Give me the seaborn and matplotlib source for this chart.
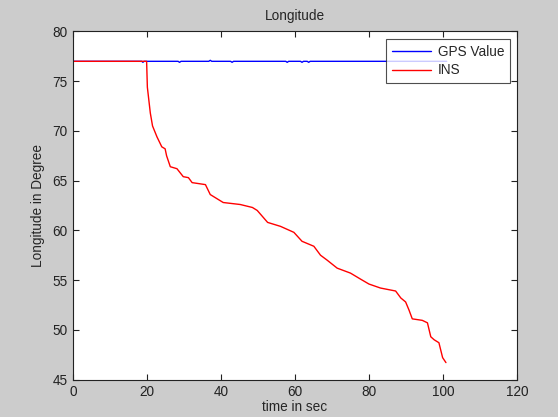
import matplotlib
matplotlib.use("Agg")
import matplotlib.pyplot as plt
import seaborn as sns
import pandas as pd

# GPS reference longitude (nearly constant, small wiggles)
gps_t = [0, 18.6, 18.9, 19.2, 28.4, 28.8, 29.2, 36.7, 37.1, 37.5, 42.6, 43.0, 43.4,
         57.5, 57.9, 58.3, 61.5, 61.9, 62.3, 63.3, 63.7, 64.1, 101]
gps_v = [77.0, 77.0, 76.9, 77.0, 77.0, 76.9, 77.0, 77.0, 77.1, 77.0, 77.0, 76.9, 77.0,
         77.0, 76.9, 77.0, 77.0, 76.9, 77.0, 77.0, 76.9, 77.0, 77.0]

# INS estimated longitude (drifting)
ins_t = [0, 19.9, 20.1, 20.9, 21.5, 22.7, 24.0, 24.9, 25.3, 26.3, 28.1, 29.8, 31.2,
         32.2, 35.8, 37.1, 40.6, 45.2, 48.5, 49.8, 52.6, 56.1, 59.7, 61.9, 65.1,
         66.9, 68.7, 71.4, 75.0, 77.7, 80.0, 83.1, 87.2, 88.6, 89.9, 90.8, 91.7,
         94.4, 95.8, 96.7, 97.6, 98.9, 99.9, 100.8]
ins_v = [77.0, 77.0, 74.4, 71.8, 70.5, 69.4, 68.4, 68.2, 67.5, 66.4, 66.2, 65.4, 65.3,
         64.8, 64.6, 63.6, 62.8, 62.6, 62.3, 62.0, 60.8, 60.4, 59.8, 58.9, 58.4,
         57.5, 57.0, 56.2, 55.7, 55.1, 54.6, 54.2, 53.9, 53.2, 52.8, 52.0, 51.1,
         50.95, 50.7, 49.3, 49.0, 48.7, 47.2, 46.7]

x_ticks = [0, 20, 40, 60, 80, 100, 120]
y_ticks = [45, 50, 55, 60, 65, 70, 75, 80]

sns.set_style("ticks")
plt.rcParams['font.family'] = ['Liberation Sans', 'DejaVu Sans']
plt.rcParams['xtick.direction'] = 'in'
plt.rcParams['ytick.direction'] = 'in'

fig = plt.figure(figsize=(5.58, 4.17), dpi=100, facecolor='#cccccc')
ax = fig.add_axes([0.1308, 0.0899, 0.7957, 0.8346])
ax.set_facecolor('white')

gps_df = pd.DataFrame({'t': gps_t, 'v': gps_v})
ins_df = pd.DataFrame({'t': ins_t, 'v': ins_v})

sns.lineplot(data=gps_df, x='t', y='v', color='#0000ff', lw=1.0, label='GPS Value',
             estimator=None, sort=False, ax=ax)
sns.lineplot(data=ins_df, x='t', y='v', color='#ff0000', lw=1.0, label='INS',
             estimator=None, sort=False, ax=ax)

ax.set_xlim(0, 120)
ax.set_ylim(45, 80)
ax.set_xticks(x_ticks)
ax.set_yticks(y_ticks)
ax.tick_params(axis='both', which='both', direction='in', length=4, width=0.8,
               labelsize=9.8, top=True, right=True, colors='#222222', pad=4)
for s in ax.spines.values():
    s.set_visible(True)
    s.set_linewidth(0.8)
    s.set_color('#222222')

ax.set_title('Longitude', fontsize=9.8, pad=8)
ax.set_xlabel('time in sec', fontsize=9.8, labelpad=1)
ax.set_ylabel('Longitude in Degree', fontsize=9.8, labelpad=5)

leg = ax.legend(loc='upper right', bbox_to_anchor=(0.984, 0.978), borderaxespad=0,
                fontsize=9.8, frameon=True, fancybox=False, handlelength=2.9,
                handletextpad=0.5, borderpad=0.4, labelspacing=0.35)
leg.get_frame().set_edgecolor('#222222')
leg.get_frame().set_linewidth(0.8)
for line in leg.get_lines():
    line.set_linewidth(1.0)

fig.savefig('out.png', dpi=100, facecolor='#cccccc')
